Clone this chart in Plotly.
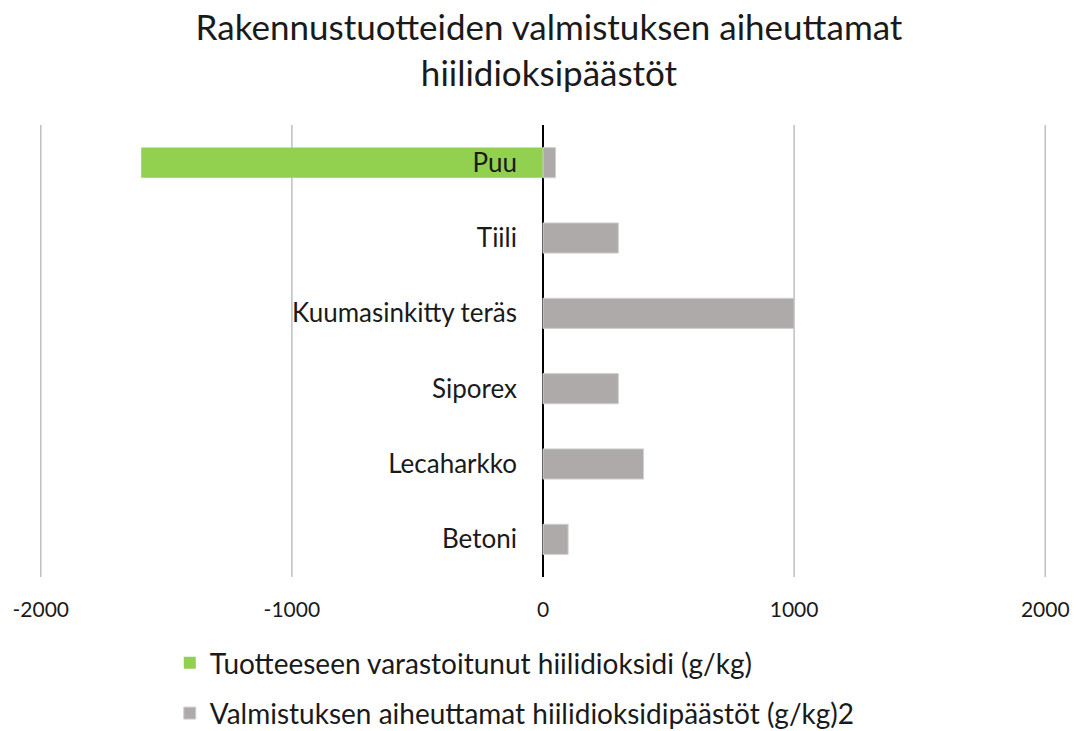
import plotly.graph_objects as go

categories = ["Puu", "Tiili", "Kuumasinkitty teräs", "Siporex", "Lecaharkko", "Betoni"]
stored_co2 = [-1600, None, None, None, None, None]
emissions = [50, 300, 1000, 300, 400, 100]
series_names = ["Tuotteeseen varastoitunut hiilidioksidi (g/kg)",
                "Valmistuksen aiheuttamat hiilidioksidipäästöt (g/kg)2"]
x_ticks = [-2000, -1000, 0, 1000, 2000]

FONT = "Lato"

fig = go.Figure()
fig.add_trace(go.Bar(
    y=categories, x=stored_co2, orientation="h", name=series_names[0],
    marker=dict(color="#92D050", line=dict(width=0)), width=0.4,
    legendgroup="a",
))
fig.add_trace(go.Bar(
    y=categories, x=emissions, orientation="h", name=series_names[1],
    marker=dict(color="#AEAAAA", line=dict(color="#D0CECE", width=1)), width=0.4,
    legendgroup="b",
))

# vertical gridlines at every non-zero tick (including the range ends)
for v in x_ticks:
    if v != 0:
        fig.add_shape(type="line", xref="x", yref="paper", x0=v, x1=v, y0=0, y1=1,
                      line=dict(color="#BFBFBF", width=1.5), layer="below")

fig.update_layout(
    width=1082, height=731,
    paper_bgcolor="white", plot_bgcolor="white",
    margin=dict(l=32, r=44, t=117, b=162, autoexpand=False),
    barmode="overlay",
    font=dict(family=FONT, color="#1a1a1a", size=20),
    title=dict(
        text="Rakennustuotteiden valmistuksen aiheuttamat<br>hiilidioksipäästöt",
        x=0.5, xanchor="center", yref="container", y=1 - 32 / 731, yanchor="middle",
        font=dict(size=35, family=FONT, color="#1a1a1a"),
    ),
    xaxis=dict(
        range=[-2003, 2003], tickvals=x_ticks, ticktext=[str(v) for v in x_ticks],
        showgrid=False,
        zeroline=True, zerolinecolor="#000000", zerolinewidth=1.5,
        showline=False, ticks="", ticklabelstandoff=18, automargin=False,
        tickfont=dict(size=21, family=FONT),
    ),
    yaxis=dict(
        categoryorder="array", categoryarray=categories, autorange="reversed",
        anchor="free", position=0.5, side="left", automargin=False,
        showgrid=False, zeroline=False, showline=False, ticks="",
        ticklabelstandoff=26,
        tickfont=dict(size=26, family=FONT),
    ),
    legend=dict(
        orientation="v", x=0.129, xanchor="left", y=-0.135, yanchor="top",
        font=dict(size=28, family=FONT), traceorder="grouped", tracegroupgap=11,
        bgcolor="rgba(0,0,0,0)",
    ),
)

fig.write_html("out.html")
